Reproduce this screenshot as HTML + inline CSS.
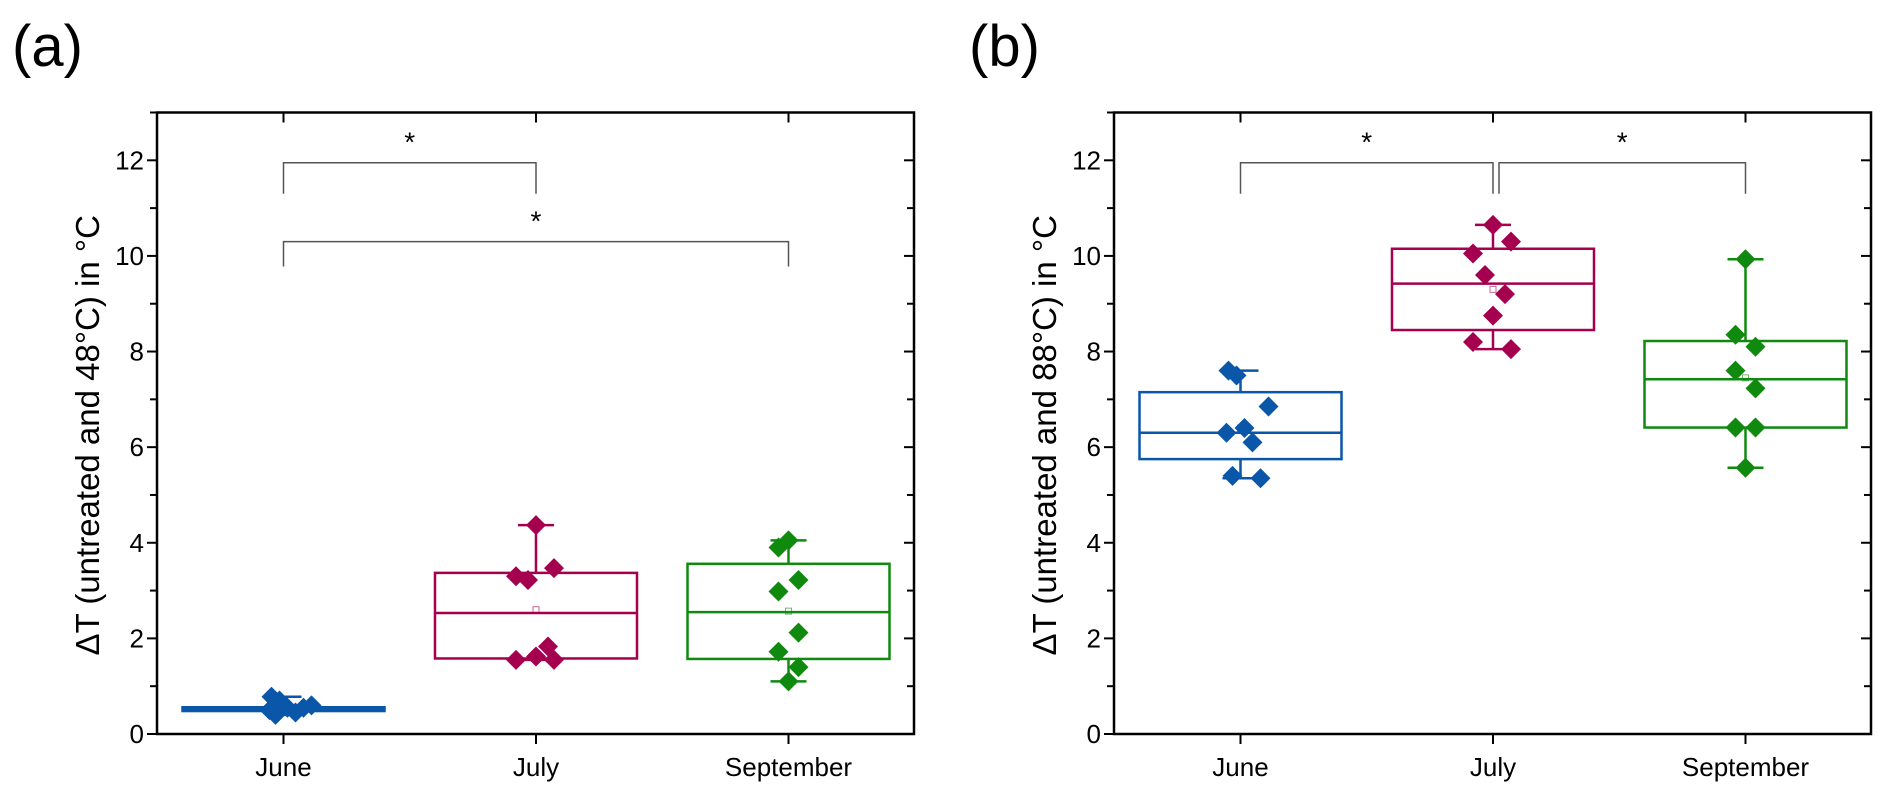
<!DOCTYPE html>
<html><head><meta charset="utf-8"><style>
body{margin:0;background:#fff;}
svg{display:block;font-family:"Liberation Sans",Arial,sans-serif;}
</style></head><body>
<svg id="chart" width="1892" height="802" viewBox="0 0 1892 802" xmlns="http://www.w3.org/2000/svg"></svg>
<script>
const categories = ["June","July","September"];
const yTicks = [0,2,4,6,8,10,12];
const colors = ["#0a56a8","#a5004f","#0f8a0f"];
// panel a values
const aBoxLow = [0.48,1.58,1.57];
const aBoxHigh = [0.56,3.37,3.56];
const aMedian = [0.52,2.53,2.55];
const aMean = [0.55,2.6,2.57];
const aWhiskLow = [0.40,1.55,1.10];
const aWhiskHigh = [0.78,4.37,4.05];
const aJune = [0.78,0.70,0.60,0.55,0.50,0.45,0.40,0.55];
const aJuly = [4.37,3.47,3.30,3.22,1.83,1.62,1.55,1.55];
const aSept = [4.05,3.90,3.22,2.98,2.12,1.72,1.40,1.10];
// panel b values
const bBoxLow = [5.75,8.45,6.41];
const bBoxHigh = [7.15,10.15,8.22];
const bMedian = [6.30,9.42,7.42];
const bMean = [6.4,9.3,7.45];
const bWhiskLow = [5.35,8.05,5.57];
const bWhiskHigh = [7.60,10.65,9.93];
const bJune = [7.60,7.50,6.85,6.40,6.30,6.10,5.40,5.35];
const bJuly = [10.65,10.30,10.05,9.60,9.20,8.75,8.20,8.05];
const bSept = [9.93,8.35,8.10,7.60,7.23,6.41,6.41,5.57];
const jitter = [[-12,-4,28,4,-14,12,-8,20],[0,18,-20,-8,12,0,-20,18],[0,-10,10,-10,10,-10,10,0]];

const NS="http://www.w3.org/2000/svg";
const svg=document.getElementById('chart');
function mk(tag,attrs,parent){const e=document.createElementNS(NS,tag);for(const k in attrs)e.setAttribute(k,attrs[k]);(parent||svg).appendChild(e);return e;}

function panel(left,label,title,lo,hi,med,mean,wl,wh,pts,brackets,pname){
  const g=mk('g',{});
  
  
  const right=left+757, top=112.5, bottom=734;
  const y=v=>bottom-(v/13)*(bottom-top);
  const x=i=>left+126.5+i*252.5;
  const pl=mk('text',{x:left-145,y:66,'font-size':58,fill:'#000'},g);pl.textContent=label;
  
  
  const fr=mk('rect',{x:left,y:top,width:757,height:bottom-top,fill:'none',stroke:'#000','stroke-width':2.5},g);
  
  
  for(let v=0;v<=13;v++){
    const L=v%2===0?10:7;
    mk('line',{x1:left-L,x2:left,y1:y(v),y2:y(v),stroke:'#000','stroke-width':2},g);
    mk('line',{x1:right-L,x2:right,y1:y(v),y2:y(v),stroke:'#000','stroke-width':2},g);
  }
  yTicks.forEach(v=>{const t=mk('text',{x:left-13,y:y(v)+9,'font-size':26,'text-anchor':'end'},g);t.textContent=v;
    
    });
  categories.forEach((c,i)=>{
    mk('line',{x1:x(i),x2:x(i),y1:bottom,y2:bottom+10,stroke:'#000','stroke-width':2},g);
    mk('line',{x1:x(i),x2:x(i),y1:top,y2:top+10,stroke:'#000','stroke-width':2},g);
    const t=mk('text',{x:x(i),y:776,'font-size':26,'text-anchor':'middle'},g);t.textContent=c;
    
    
  });
  const yt=mk('text',{x:0,y:0,'font-size':33,'text-anchor':'middle',transform:`translate(${left-58},${(top+bottom)/2+12}) rotate(-90)`},g);
  yt.textContent=title;
  
  
  categories.forEach((c,i)=>{
    const col=colors[i], cx=x(i), hw=101;
    const bg=mk('g',{},g);
    
    
    mk('line',{x1:cx,x2:cx,y1:y(wh[i]),y2:y(hi[i]),stroke:col,'stroke-width':2.5},bg);
    mk('line',{x1:cx,x2:cx,y1:y(lo[i]),y2:y(wl[i]),stroke:col,'stroke-width':2.5},bg);
    mk('line',{x1:cx-18,x2:cx+18,y1:y(wh[i]),y2:y(wh[i]),stroke:col,'stroke-width':2.5},bg);
    mk('line',{x1:cx-18,x2:cx+18,y1:y(wl[i]),y2:y(wl[i]),stroke:col,'stroke-width':2.5},bg);
    mk('rect',{x:cx-hw,y:y(hi[i]),width:2*hw,height:Math.max(y(lo[i])-y(hi[i]),1),fill:'none',stroke:col,'stroke-width':2.5},bg);
    mk('line',{x1:cx-hw,x2:cx+hw,y1:y(med[i]),y2:y(med[i]),stroke:col,'stroke-width':2.5},bg);
    mk('rect',{x:cx-3,y:y(mean[i])-3,width:6,height:6,fill:'none',stroke:col,'stroke-width':1,opacity:0.6},bg);
    pts[i].forEach((v,k)=>{
      const px=cx+jitter[i][k], py=y(v), s=10;
      const d=mk('polygon',{points:`${px},${py-s} ${px+s},${py} ${px},${py+s} ${px-s},${py}`,fill:col},bg);
      
      
    });
  });
  brackets.forEach(b=>{
    const bgp=mk('g',{},g);
    
    
    const x1=x(b[0])+b[4], x2=x(b[1])+b[5];
    mk('polyline',{points:`${x1},${y(b[3])} ${x1},${y(b[2])} ${x2},${y(b[2])} ${x2},${y(b[3])}`,fill:'none',stroke:'#555','stroke-width':1.5},bgp);
    const s=mk('text',{x:(x1+x2)/2,y:y(b[2])-11,'font-size':28,'text-anchor':'middle'},bgp);s.textContent='*';
  });
}
panel(157,'(a)','ΔT (untreated and 48°C) in °C',aBoxLow,aBoxHigh,aMedian,aMean,aWhiskLow,aWhiskHigh,[aJune,aJuly,aSept],
  [[0,1,11.95,11.3,0,0],[0,2,10.3,9.78,0,0]],'panel-a');
panel(1114,'(b)','ΔT (untreated and 88°C) in °C',bBoxLow,bBoxHigh,bMedian,bMean,bWhiskLow,bWhiskHigh,[bJune,bJuly,bSept],
  [[0,1,11.95,11.3,0,0],[1,2,11.95,11.3,6,0]],'panel-b');
</script>
</body></html>
